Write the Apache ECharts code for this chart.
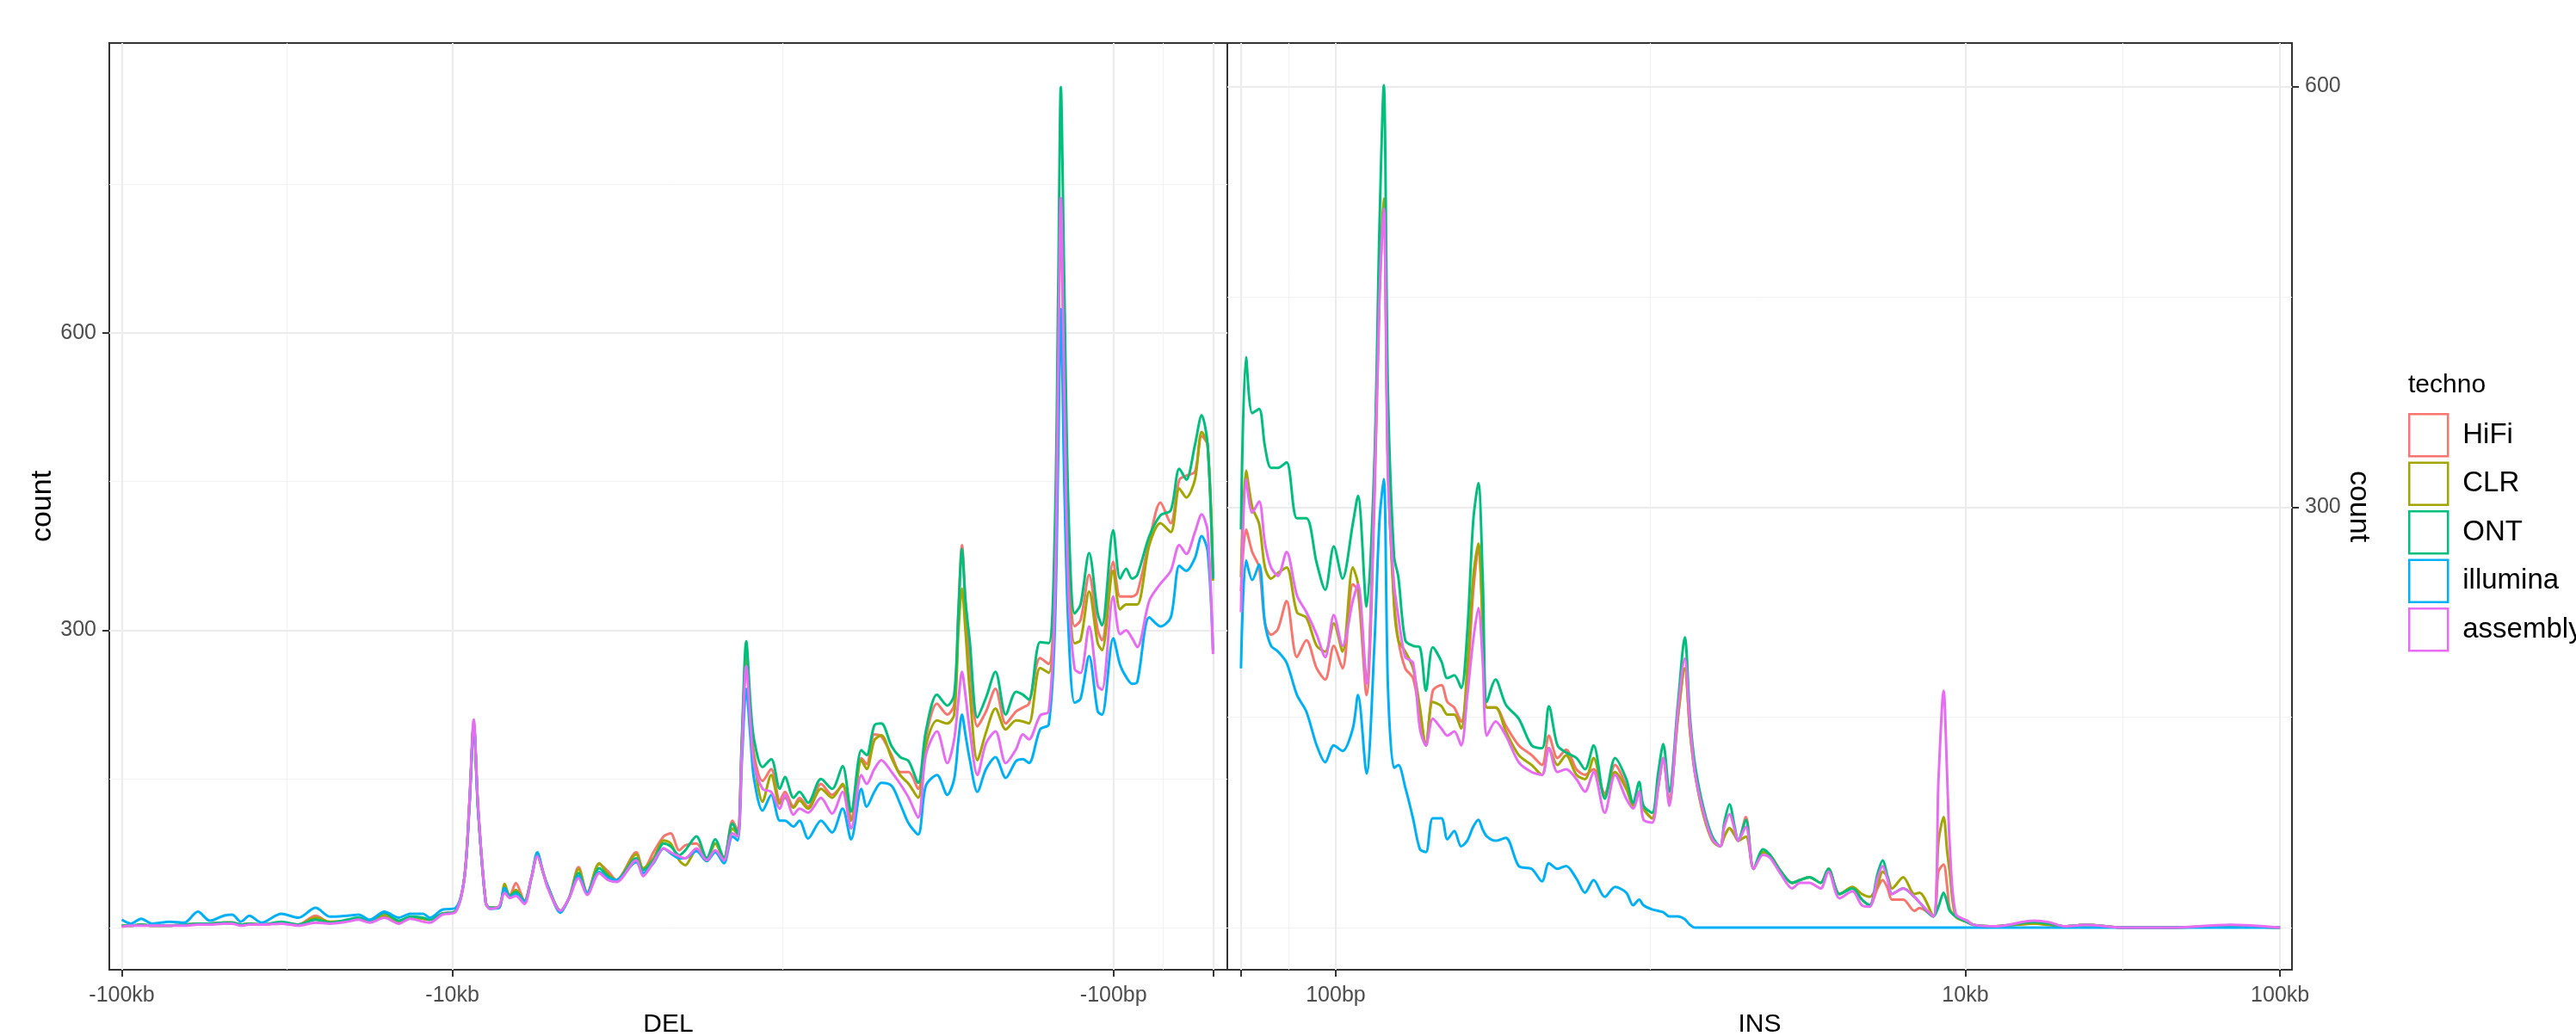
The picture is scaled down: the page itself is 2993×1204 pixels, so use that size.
<!DOCTYPE html>
<html>
<head>
<meta charset="utf-8">
<script src="https://cdn.jsdelivr.net/npm/echarts@6/dist/echarts.min.js"></script>
<style>
html,body{margin:0;padding:0;background:#ffffff;}
#chart{width:2993px;height:1204px;}
</style>
</head>
<body>
<div id="chart"></div>
<script>
// ---------------- DATA ----------------
const techs = ['HiFi', 'CLR', 'ONT', 'illumina', 'assembly'];

// DEL panel: deletion size (bp, plotted as negative)
const delSize = [100000, 93900, 87400, 80900, 71740, 64780, 58880, 54130, 49200, 46340,
  43640, 41110, 37800, 32940, 29220, 25930, 23420, 20780, 19220, 17780,
  16060, 14510, 13420, 12270, 11690, 10750, 9770, 9200, 8880, 8616,
  8360, 7923, 7690, 7240, 6945, 6700, 6427, 6053, 5770, 5533,
  5306, 5150, 4707, 4433, 4151, 3910, 3594, 3385, 3189, 2778,
  2649, 2465, 2294, 2186, 2060, 1975, 1827, 1700, 1602, 1509,
  1421, 1371, 1330, 1291, 1253, 1223, 1152, 1085, 1022, 986,
  929, 891, 839, 767, 710, 660, 622, 579, 558, 529,
  504, 469, 442, 416.5, 390, 369.6, 341.9, 318.2, 303.3, 294.4,
  287.3, 280.5, 272.3, 258, 243, 227.5, 211.8, 197.1, 187.9, 180.2,
  166.7, 157, 150.5, 146.9, 144.3, 140.9, 136.8, 131.1, 125.8, 118.5,
  111.6, 108.3, 100.2, 95.5, 91.6, 87.8, 84.7, 77.9, 72.1, 67.1,
  63.2, 60.2, 56.7, 54.1, 51.9, 50];

const delHiFi = [2, 2, 3, 2, 2, 3, 4, 4, 5, 5,
  3, 4, 3, 5, 3, 12, 5, 7, 9, 6,
  13, 6, 10, 9, 8, 14, 17, 50, 125, 205,
  120, 25, 20, 21, 38, 33, 45, 27, 50, 73,
  55, 42, 17, 30, 61, 35, 64, 57, 48, 76,
  58, 76, 92, 95, 78, 83, 85, 70, 85, 70,
  108, 98, 190, 275, 215, 175, 148, 160, 128, 137,
  122, 131, 122, 145, 134, 143, 110, 171, 165, 195,
  193, 174, 157, 157, 140, 192, 226, 215, 225, 320,
  386, 330, 270, 203, 218, 241, 206, 218, 222, 226,
  272, 266, 350, 580, 730, 560, 380, 304, 310, 356,
  300, 290, 369, 334, 334, 334, 338, 390, 429, 408,
  452, 456, 460, 496, 487, 355];

const delCLR = [2, 2, 3, 2, 2, 3, 4, 4, 5, 5,
  3, 4, 3, 5, 3, 10, 6, 7, 9, 6,
  12, 6, 10, 9, 8, 14, 17, 50, 125, 205,
  120, 25, 20, 20, 44, 32, 38, 27, 50, 73,
  55, 42, 17, 30, 59, 35, 65, 54, 48, 74,
  60, 70, 88, 85, 68, 63, 78, 70, 85, 70,
  100, 94, 185, 270, 210, 170, 127, 154, 125, 131,
  121, 128, 120, 140, 131, 145, 108, 169, 160, 189,
  194, 171, 154, 145, 131, 183, 209, 206, 215, 300,
  342, 300, 240, 169, 197, 221, 200, 209, 208, 206,
  262, 257, 340, 575, 728, 550, 360, 287, 290, 339,
  287, 280, 360, 321, 326, 326, 326, 386, 408, 399,
  443, 434, 452, 500, 487, 350];

const delONT = [2, 2, 3, 2, 2, 3, 4, 4, 5, 5,
  3, 4, 3, 6, 3, 8, 5, 8, 10, 7,
  15, 7, 11, 10, 8, 14, 17, 50, 125, 206,
  120, 25, 20, 20, 40, 32, 36, 27, 50, 74,
  55, 42, 17, 30, 55, 35, 60, 52, 48, 70,
  58, 68, 85, 82, 73, 78, 92, 70, 89, 70,
  105, 95, 195, 289, 225, 190, 162, 170, 140, 152,
  131, 137, 126, 150, 140, 163, 117, 179, 174, 204,
  206, 183, 172, 168, 146, 198, 235, 224, 235, 320,
  382, 330, 290, 212, 232, 258, 215, 238, 235, 230,
  288, 287, 400, 650, 848, 650, 420, 317, 326, 378,
  317, 305, 401, 352, 362, 352, 356, 395, 416, 421,
  463, 452, 487, 517, 487, 352];

const delIllumina = [8, 4, 9, 4, 6, 5, 16, 7, 12, 13,
  6, 12, 5, 14, 10, 20, 11, 12, 13, 8,
  16, 10, 14, 14, 10, 18, 20, 50, 122, 204,
  118, 25, 19, 20, 40, 30, 34, 26, 50, 76,
  55, 42, 15, 30, 52, 35, 56, 50, 48, 66,
  55, 65, 80, 75, 70, 70, 77, 67, 76, 65,
  92, 88, 170, 241, 190, 150, 118, 134, 108, 108,
  102, 108, 90, 108, 96, 120, 89, 140, 122, 137,
  146, 143, 125, 105, 94, 143, 154, 134, 150, 190,
  215, 195, 170, 137, 160, 172, 151, 168, 170, 166,
  200, 205, 300, 480, 624, 450, 300, 227, 231, 274,
  218, 215, 292, 265, 253, 246, 248, 313, 304, 313,
  365, 360, 373, 395, 380, 280];

const delAssembly = [1, 2, 2, 2, 2, 2, 3, 3, 4, 4,
  2, 3, 3, 4, 2, 5, 4, 6, 8, 5,
  10, 4, 9, 6, 5, 13, 16, 50, 126, 210,
  122, 25, 19, 21, 35, 30, 32, 24, 50, 72,
  55, 40, 17, 30, 50, 33, 55, 48, 46, 68,
  52, 66, 80, 76, 72, 70, 80, 68, 78, 68,
  95, 92, 180, 264, 205, 165, 140, 137, 120, 134,
  114, 120, 116, 131, 115, 137, 100, 154, 145, 160,
  169, 157, 145, 131, 111, 174, 198, 166, 190, 230,
  258, 235, 200, 154, 186, 198, 166, 180, 195, 190,
  214, 218, 330, 570, 736, 540, 340, 261, 257, 304,
  244, 240, 334, 296, 300, 292, 283, 330, 347, 360,
  386, 377, 399, 417, 400, 276];

// INS panel: insertion size (bp)
const insSize = [50, 51.9, 54.3, 57.1, 59.6, 62.3, 65.5, 69.8, 75.3, 80.7,
  87, 92.6, 98.6, 105.1, 113.3, 117.7, 125.3, 132.6, 137.7, 142.1,
  146.6, 153.2, 158.1, 166.3, 176, 185.1, 193.4, 203.4, 216.6, 226.3,
  238, 250.3, 261.6, 273.4, 283.9, 293, 302.3, 321.9, 347.1, 381.5,
  419.3, 452.2, 475.5, 506.4, 539.2, 581.6, 619.3, 659.5, 715.5, 771.8,
  837.5, 880.8, 920.4, 949.9, 1012, 1057, 1098, 1147, 1222, 1285,
  1335, 1385, 1475, 1572, 1664, 1716, 1782, 1851, 1898, 2009,
  2126, 2278, 2395, 2598, 2820, 2985, 3199, 3471, 3674, 3987,
  4381, 4695, 4969, 5258, 5461, 5670, 5852, 6351, 6892, 7157,
  7916, 8218, 8534, 8753, 8920, 9322, 10116, 10640, 12530, 16530,
  18390, 20730, 24250, 32190, 44100, 69370, 100000];

const insHiFi = [240, 284, 268, 257, 217, 209, 213, 233, 193, 205,
  185, 177, 201, 185, 245, 240, 166, 300, 450, 512,
  330, 235, 205, 185, 178, 152, 130, 169, 173, 161,
  157, 147, 175, 240, 270, 220, 157, 157, 144, 130,
  123, 116, 137, 121, 127, 113, 109, 113, 96, 116,
  101, 88, 97, 85, 78, 100, 121, 90, 150, 185,
  140, 110, 80, 64, 58, 65, 71, 66, 62, 79,
  42, 54, 52, 40, 32, 34, 36, 32, 42, 24,
  28, 20, 16, 28, 34, 28, 20, 20, 12, 14,
  8, 40, 45, 30, 14, 8, 5, 2, 1, 3,
  2, 1, 2, 0, 0, 1, 0];

const insCLR = [250, 326, 300, 288, 257, 249, 253, 257, 225, 221,
  201, 197, 217, 197, 257, 245, 177, 320, 460, 520,
  330, 230, 205, 197, 185, 157, 130, 161, 158, 152,
  152, 142, 185, 250, 274, 215, 157, 157, 140, 123,
  116, 109, 128, 116, 123, 109, 106, 121, 94, 111,
  99, 87, 97, 85, 78, 100, 121, 90, 150, 185,
  140, 110, 80, 62, 58, 65, 71, 66, 62, 65,
  42, 54, 52, 40, 32, 34, 36, 32, 42, 24,
  29, 24, 22, 30, 40, 36, 28, 36, 24, 25,
  8, 61, 79, 55, 40, 8, 4, 2, 1, 3,
  2, 1, 2, 0, 0, 1, 0];

const insONT = [284, 407, 367, 370, 343, 328, 328, 332, 292, 292,
  260, 241, 272, 249, 288, 308, 229, 330, 500, 601,
  380, 265, 250, 205, 201, 200, 169, 200, 190, 178,
  180, 171, 210, 290, 317, 250, 161, 177, 159, 149,
  130, 128, 158, 130, 125, 121, 113, 130, 92, 121,
  106, 89, 104, 87, 82, 110, 131, 97, 160, 207,
  150, 116, 85, 65, 58, 75, 88, 72, 62, 77,
  42, 56, 52, 40, 32, 34, 36, 32, 42, 24,
  28, 20, 16, 38, 48, 36, 24, 28, 22, 18,
  8, 15, 25, 18, 12, 8, 4, 2, 1, 4,
  3, 1, 2, 0, 0, 1, 0];

const insIllumina = [185, 262, 248, 259, 217, 201, 197, 189, 166, 154,
  130, 118, 130, 126, 142, 166, 110, 200, 290, 320,
  170, 114, 116, 100, 78, 56, 54, 78, 78, 63,
  69, 58, 62, 72, 77, 70, 65, 62, 64, 44,
  42, 33, 46, 42, 44, 35, 25, 34, 22, 29,
  25, 16, 20, 16, 13, 12, 11, 8, 8, 6,
  2, 0, 0, 0, 0, 0, 0, 0, 0, 0,
  0, 0, 0, 0, 0, 0, 0, 0, 0, 0,
  0, 0, 0, 0, 0, 0, 0, 0, 0, 0,
  0, 0, 0, 0, 0, 0, 0, 0, 0, 0,
  0, 0, 0, 0, 0, 0, 0];

const insAssembly = [225, 320, 296, 304, 274, 257, 251, 268, 237, 225,
  209, 193, 223, 201, 233, 245, 174, 310, 450, 513,
  320, 245, 222, 193, 189, 142, 130, 149, 142, 137,
  140, 130, 165, 205, 228, 190, 137, 147, 137, 118,
  111, 109, 128, 111, 113, 106, 97, 111, 82, 109,
  92, 85, 97, 77, 75, 100, 121, 87, 155, 192,
  145, 110, 82, 63, 58, 72, 81, 70, 62, 72,
  42, 52, 50, 38, 28, 32, 32, 28, 40, 21,
  26, 16, 15, 35, 44, 34, 24, 28, 22, 18,
  8, 105, 169, 110, 60, 10, 5, 2, 1, 5,
  4, 1, 2, 0, 0, 2, 0];

// axis breaks
const delTickBreaks = [100000, 10000, 100, 50];
const delLabelBreaks = [100000, 10000, 100];
const insTickBreaks = [50, 100, 10000, 100000];
const insLabelBreaks = [100, 10000, 100000];
const xMinorBreaks = [31623, 1000, 70.71];
const yMajorBreaks = [300, 600];
const delYMinorBreaks = [0, 150, 450, 750];
const insYMinorBreaks = [0, 150, 450];

// ---------------- STYLE ----------------
const colors = { HiFi: '#F8766D', CLR: '#A3A500', ONT: '#00BF7D', illumina: '#00B0F6', assembly: '#E76BF3' };
const FONT = '"Liberation Sans", Arial, Helvetica, sans-serif';
const X_MIN = 45.25, X_MAX = 109100;
const LX_MIN = Math.log10(X_MIN), LX_MAX = Math.log10(X_MAX);
const DEL_Y = [-42.5, 892.5];
const INS_Y = [-30, 631];

const delData = { HiFi: delHiFi, CLR: delCLR, ONT: delONT, illumina: delIllumina, assembly: delAssembly };
const insData = { HiFi: insHiFi, CLR: insCLR, ONT: insONT, illumina: insIllumina, assembly: insAssembly };

function sizeLabel(logv) {
  const v = Math.round(Math.pow(10, logv));
  if (v >= 1000) return (v / 1000) + 'kb';
  return v + 'bp';
}
const lg = a => a.map(v => Math.log10(v));

const tickStyle = { show: true, length: 8, lineStyle: { color: '#333333', width: 2 } };
const labelStyle = { color: '#4D4D4D', fontSize: 25, fontFamily: FONT };
const majorGrid = { show: true, lineStyle: { color: '#EBEBEB', width: 2 } };
const minorGrid = { show: true, lineStyle: { color: '#F2F2F2', width: 1 } };

function overlayX(grid, inverse, ticks, labels, fmtPrefix, name) {
  return [{
    type: 'value', gridIndex: grid, min: LX_MIN, max: LX_MAX, inverse: inverse, position: 'bottom',
    axisLine: { show: false, onZero: false },
    axisTick: Object.assign({ customValues: lg(ticks) }, tickStyle),
    axisLabel: Object.assign({ customValues: lg(labels), margin: 18, formatter: v => fmtPrefix + sizeLabel(v) }, labelStyle),
    splitLine: majorGrid,
    name: name, nameLocation: 'middle', nameGap: 49,
    nameTextStyle: { fontSize: 30, fontFamily: FONT, color: '#000000' }
  }, {
    type: 'value', gridIndex: grid, min: LX_MIN, max: LX_MAX, inverse: inverse, position: 'bottom',
    axisLine: { show: false, onZero: false },
    axisTick: { show: false, customValues: lg(xMinorBreaks) },
    axisLabel: { show: false },
    splitLine: minorGrid
  }];
}

function yAxes(grid, ext, pos, minors, rot, gap) {
  return [{
    type: 'value', gridIndex: grid, min: ext[0], max: ext[1], position: pos,
    axisLine: { show: false, onZero: false },
    axisTick: Object.assign({ customValues: yMajorBreaks }, tickStyle),
    axisLabel: Object.assign({ customValues: yMajorBreaks, margin: 15 }, labelStyle),
    splitLine: majorGrid,
    name: 'count', nameLocation: 'middle', nameGap: gap, nameRotate: rot,
    nameTextStyle: { fontSize: 34, fontFamily: FONT, color: '#000000' }
  }, {
    type: 'value', gridIndex: grid, min: ext[0], max: ext[1], position: pos,
    axisLine: { show: false, onZero: false },
    axisTick: { show: false, customValues: minors },
    axisLabel: { show: false },
    splitLine: minorGrid
  }];
}

const series = [];
techs.forEach(t => {
  series.push({
    name: t, type: 'line', xAxisIndex: 0, yAxisIndex: 0,
    data: delSize.map((s, i) => [s, delData[t][i]]),
    showSymbol: false, symbol: 'none', smooth: 0.3, silent: true, z: 3,
    lineStyle: { color: colors[t], width: 3 }, itemStyle: { color: colors[t] }
  });
});
techs.forEach(t => {
  series.push({
    name: t, type: 'line', xAxisIndex: 3, yAxisIndex: 2,
    data: insSize.map((s, i) => [s, insData[t][i]]),
    showSymbol: false, symbol: 'none', smooth: 0.3, silent: true, z: 3,
    lineStyle: { color: colors[t], width: 3 }, itemStyle: { color: colors[t] }
  });
});

const gridBase = { top: 50, height: 1077, show: true, borderColor: '#333333', borderWidth: 2, backgroundColor: 'transparent', containLabel: false, outerBoundsMode: 'none' };

const option = {
  animation: false,
  backgroundColor: '#ffffff',
  grid: [
    Object.assign({ left: 127, width: 1299 }, gridBase),
    Object.assign({ left: 1426, width: 1237 }, gridBase)
  ],
  xAxis: [
    { type: 'log', logBase: 10, gridIndex: 0, min: X_MIN, max: X_MAX, inverse: true, show: false },
    ...overlayX(0, true, delTickBreaks, delLabelBreaks, '-', 'DEL'),
    { type: 'log', logBase: 10, gridIndex: 1, min: X_MIN, max: X_MAX, inverse: false, show: false },
    ...overlayX(1, false, insTickBreaks, insLabelBreaks, '', 'INS')
  ],
  yAxis: [
    ...yAxes(0, DEL_Y, 'left', delYMinorBreaks, 90, 52),
    ...yAxes(1, INS_Y, 'right', insYMinorBreaks, -90, 38)
  ],
  legend: {
    orient: 'vertical', left: 2798, top: 480, padding: 0,
    itemWidth: 45, itemHeight: 49, itemGap: 5, icon: 'rect',
    selectedMode: false,
    data: techs.map(t => ({ name: t, itemStyle: { color: '#ffffff', borderColor: colors[t], borderWidth: 2.5 } })),
    textStyle: { fontSize: 33, fontFamily: FONT, color: '#000000', padding: [0, 0, 0, 12] }
  },
  graphic: [{
    type: 'text', x: 2798, y: 448,
    style: { text: 'techno', fontSize: 30, fontFamily: FONT, fill: '#000000', verticalAlign: 'middle', align: 'left' }
  }],
  series: series
};

const chart = echarts.init(document.getElementById('chart'), null, { renderer: 'canvas' });
chart.setOption(option);
</script>
</body>
</html>
